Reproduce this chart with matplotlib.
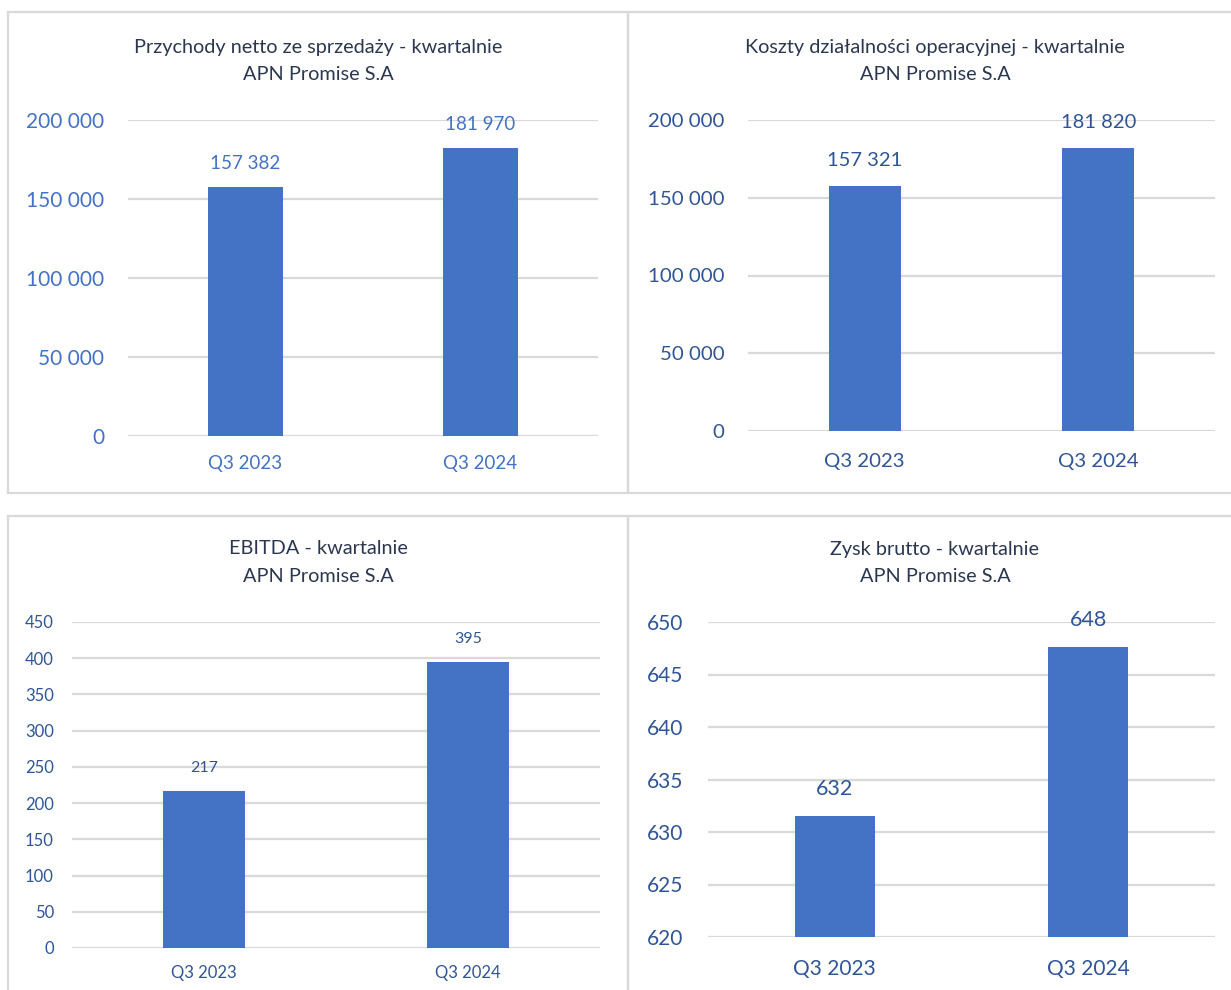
import matplotlib
matplotlib.use("Agg")
import matplotlib.pyplot as plt
from matplotlib.patches import Rectangle

plt.rcParams['font.family'] = ['Lato', 'DejaVu Sans']

categories = ['Q3 2023', 'Q3 2024']
company = 'APN Promise S.A'

przychody = [157382, 181970]
koszty = [157321, 181820]
ebitda = [217, 395]
zysk_brutto = [631.5, 647.6]

W, H = 1231, 990
BAR = '#4472C4'
GRID = '#D9D9D9'
TITLE_C = '#2B3750'


def px_axes(fig, x0, x1, ytop, ybot):
    return fig.add_axes([x0 / W, 1 - ybot / H, (x1 - x0) / W, (ybot - ytop) / H])


def fmt(v):
    return f"{round(v):,}".replace(",", " ")


def panel(fig, box, grid, values, ylim, step, tick_size, x_size, lab_size, tick_c,
          lab_c, lab_off, ypad, xpad, width):
    # light grey frame round each chart
    bx0, by0, bx1, by1 = box
    fig.patches.append(Rectangle((bx0 / W, 1 - by1 / H), (bx1 - bx0) / W, (by1 - by0) / H,
                                 transform=fig.transFigure, fill=False,
                                 edgecolor=GRID, linewidth=1.6))
    gx0, gx1, gtop, gbot = grid
    ax = px_axes(fig, gx0, gx1, gtop, gbot)
    x = range(len(values))
    ax.bar(x, values, width=width, color=BAR, zorder=3)
    ax.set_xlim(-0.5, 1.5)
    ax.set_ylim(*ylim)
    ticks = list(range(ylim[0], ylim[1] + 1, step))
    ax.set_yticks(ticks)
    ax.set_yticklabels([fmt(t) for t in ticks])
    ax.set_xticks(list(x))
    ax.set_xticklabels(categories)
    for s in ax.spines.values():
        s.set_visible(False)
    ax.yaxis.grid(True, color=GRID, linewidth=1.6, zorder=0)
    ax.tick_params(axis='both', length=0, labelcolor=tick_c)
    ax.tick_params(axis='y', pad=ypad, labelsize=tick_size)
    ax.tick_params(axis='x', pad=xpad, labelsize=x_size)
    for xi, v in zip(x, values):
        ax.annotate(fmt(v), (xi, v), xytext=(0, lab_off), textcoords='offset pixels',
                    ha='center', va='center', fontsize=lab_size, color=lab_c,
                    annotation_clip=False, zorder=4)
    return ax


fig = plt.figure(figsize=(W / 100, H / 100), dpi=100)

panel(fig, (8, 12, 628, 493), (128, 598, 120, 436), przychody, (0, 200000), 50000,
      15, 13.5, 13.5, '#4472C4', '#4472C4', 24, 17, 14, 0.315)
panel(fig, (628, 12, 1245, 493), (748, 1215, 120, 431), koszty, (0, 200000), 50000,
      14.7, 14.7, 14.5, '#2F5597', '#2F5597', 26, 17, 16, 0.31)
panel(fig, (8, 516, 628, 1000), (72, 600, 622, 948), ebitda, (0, 450), 50,
      12, 12, 11.5, '#2F5597', '#2F5597', 23, 13, 12, 0.31)
panel(fig, (628, 516, 1245, 1000), (708, 1215, 622, 937), zysk_brutto, (620, 650), 5,
      15, 15, 15.5, '#2F5597', '#2F5597', 27, 18, 16, 0.316)

titles = [('Przychody netto ze sprzedaży - kwartalnie', 318, 47),
          ('Koszty działalności operacyjnej - kwartalnie', 935, 47),
          ('EBITDA - kwartalnie', 318, 549),
          ('Zysk brutto - kwartalnie', 935, 549)]
for t, cx, cy in titles:
    fig.text(cx / W, 1 - cy / H, t, ha='center', va='center', fontsize=14.3, color=TITLE_C)
    fig.text(cx / W, 1 - (cy + 27) / H, company, ha='center', va='center',
             fontsize=14.3, color=TITLE_C)

fig.savefig('out.png', dpi=100)
